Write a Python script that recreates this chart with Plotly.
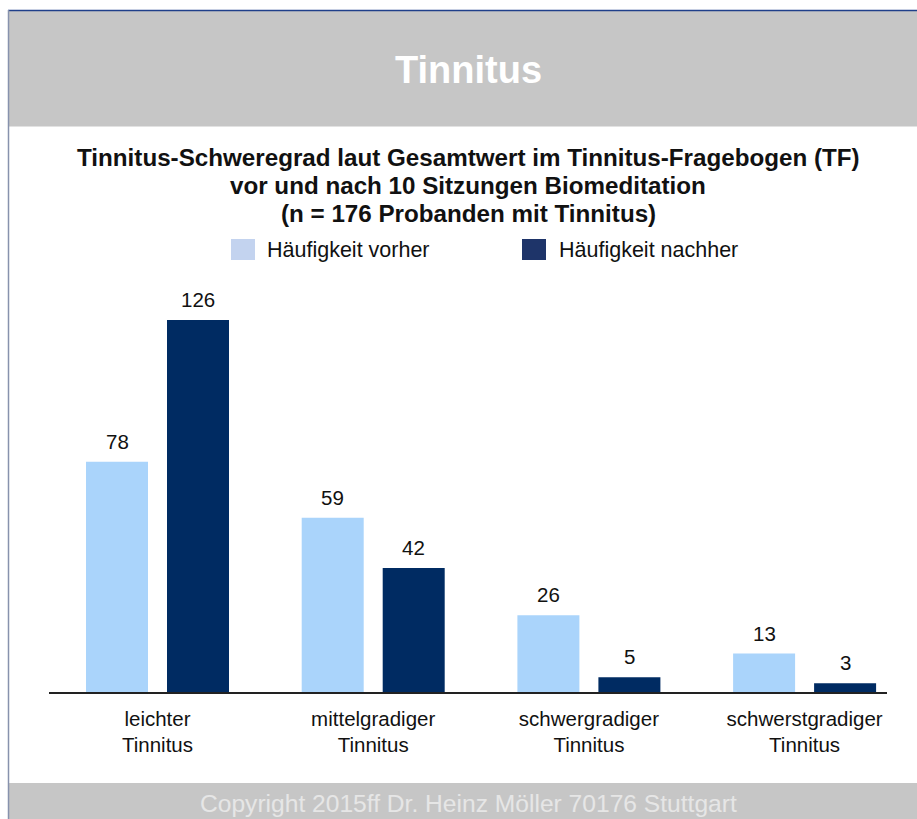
import plotly.graph_objects as go

# ---- data ----
categories = ["leichter<br>Tinnitus", "mittelgradiger<br>Tinnitus",
              "schwergradiger<br>Tinnitus", "schwerstgradiger<br>Tinnitus"]
series_names = ["Häufigkeit vorher", "Häufigkeit nachher"]
values_before = [78, 59, 26, 13]
values_after = [126, 42, 5, 3]

title_text = "Tinnitus"
subtitle_lines = ["Tinnitus-Schweregrad laut Gesamtwert im Tinnitus-Fragebogen (TF)",
                  "vor und nach 10 Sitzungen Biomeditation",
                  "(n = 176 Probanden mit Tinnitus)"]
footer_text = "Copyright 2015ff Dr. Heinz Möller 70176 Stuttgart"

# ---- layout geometry (pixels) ----
W, H = 917, 819
L, R, T, B = 49, 887, 279, 692
unit = 215.7            # px per category
c0 = 157.5              # px centre of first category
xr = [-(c0 - L) / unit, (R - c0) / unit]
bar_w = 62 / unit
off_before = -71.5 / unit
off_after = 9.5 / unit

col_before = "#aad4fb"
col_after = "#002b62"
leg_before = "#c3d3ef"
leg_after = "#1e3469"
FONT = "Liberation Sans, Arial, Helvetica, sans-serif"


def px(x):
    return (x - L) / (R - L)


def py(y):
    return (B - y) / (B - T)


xs = list(range(len(categories)))
fig = go.Figure()
fig.add_trace(go.Bar(x=xs, y=values_before, name=series_names[0],
                     marker=dict(color=col_before, line=dict(width=0)),
                     offset=off_before, width=bar_w, showlegend=False,
                     hoverinfo="skip"))
fig.add_trace(go.Bar(x=xs, y=values_after, name=series_names[1],
                     marker=dict(color=col_after, line=dict(width=0)),
                     offset=off_after, width=bar_w, showlegend=False,
                     hoverinfo="skip"))

annotations = []
for i, v in enumerate(values_before):
    annotations.append(dict(x=i + off_before + bar_w / 2, y=v, xref="x", yref="y",
                            text=str(v), showarrow=False, yanchor="bottom",
                            yshift=7, font=dict(size=20.5, color="#111", family=FONT)))
for i, v in enumerate(values_after):
    annotations.append(dict(x=i + off_after + bar_w / 2, y=v, xref="x", yref="y",
                            text=str(v), showarrow=False, yanchor="bottom",
                            yshift=7, font=dict(size=20.5, color="#111", family=FONT)))

# header title
annotations.append(dict(x=px(468), y=py(70), xref="paper", yref="paper",
                        text="<b>%s</b>" % title_text, showarrow=False,
                        xanchor="center", yanchor="middle",
                        font=dict(size=38, color="white", family=FONT)))
# subtitle
for k, line in enumerate(subtitle_lines):
    annotations.append(dict(x=px(468), y=py(157 + 28 * k), xref="paper", yref="paper",
                            text="<b>%s</b>" % line, showarrow=False,
                            xanchor="center", yanchor="middle",
                            font=dict(size=24.2, color="#111", family=FONT)))
# legend
annotations.append(dict(x=px(265), y=py(249.5), xref="paper", yref="paper",
                        text=series_names[0], showarrow=False, xanchor="left",
                        yanchor="middle", font=dict(size=21.5, color="#111", family=FONT)))
annotations.append(dict(x=px(557), y=py(249.5), xref="paper", yref="paper",
                        text=series_names[1], showarrow=False, xanchor="left",
                        yanchor="middle", font=dict(size=21.5, color="#111", family=FONT)))
# footer
annotations.append(dict(x=px(468), y=py(803), xref="paper", yref="paper",
                        text=footer_text, showarrow=False, xanchor="center",
                        yanchor="middle", font=dict(size=24.6, color="#e6e6e6", family=FONT)))

shapes = [
    # header band
    dict(type="rect", xref="paper", yref="paper", x0=px(9), x1=px(W + 5),
         y0=py(11), y1=py(126.5), fillcolor="#c6c6c6", line=dict(width=0), layer="below"),
    # footer band
    dict(type="rect", xref="paper", yref="paper", x0=px(9), x1=px(W + 5),
         y0=py(783), y1=py(H + 5), fillcolor="#c6c6c6", line=dict(width=0), layer="below"),
    # top border
    dict(type="line", xref="paper", yref="paper", x0=px(8), x1=px(W + 5),
         y0=py(10.5), y1=py(10.5), line=dict(color="#1f3f8a", width=1.5)),
    # left border
    dict(type="line", xref="paper", yref="paper", x0=px(8.5), x1=px(8.5),
         y0=py(10), y1=py(H + 5), line=dict(color="#8792ad", width=1.5)),
    # legend swatches
    dict(type="rect", xref="paper", yref="paper", x0=px(231), x1=px(255),
         y0=py(239), y1=py(260), fillcolor=leg_before, line=dict(width=0)),
    dict(type="rect", xref="paper", yref="paper", x0=px(522), x1=px(546),
         y0=py(239), y1=py(260), fillcolor=leg_after, line=dict(width=0)),
]

fig.update_layout(
    width=W, height=H,
    margin=dict(l=L, r=W - R, t=T, b=H - B, pad=0),
    paper_bgcolor="white", plot_bgcolor="white",
    barmode="overlay",
    font=dict(family=FONT, color="#111"),
    annotations=annotations, shapes=shapes,
    xaxis=dict(range=xr, tickvals=xs, ticktext=categories, showgrid=False,
               zeroline=False, showline=True, linecolor="#222", linewidth=2,
               ticks="", ticklabelstandoff=7,
               tickfont=dict(size=20.5, color="#111", family=FONT),
               fixedrange=True),
    yaxis=dict(range=[0, (B - T) / 2.952], visible=False, showgrid=False,
               zeroline=False, fixedrange=True),
)

fig.write_html("out.html", config={"displayModeBar": False},
               post_script="document.body.style.margin='0';document.body.style.overflow='hidden';")
